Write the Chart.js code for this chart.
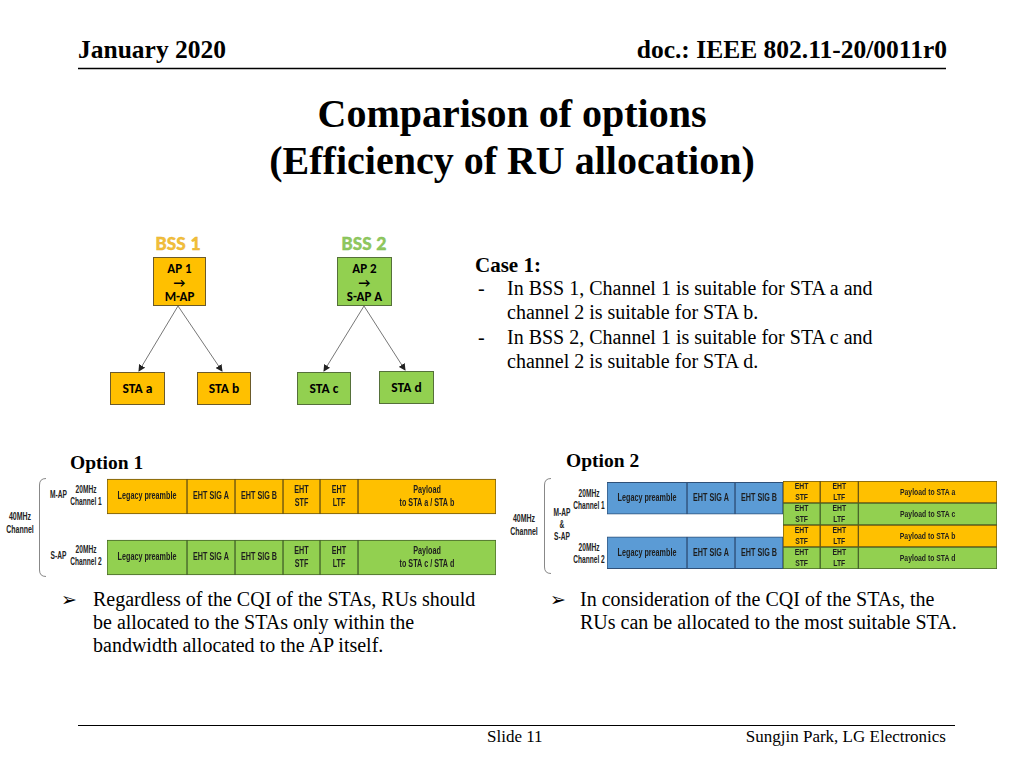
<!DOCTYPE html>
<html><head><meta charset="utf-8">
<script src="https://cdn.jsdelivr.net/npm/chart.js@4.4.1/dist/chart.umd.min.js"></script>
<style>
html,body{margin:0;padding:0;background:#fff;width:1024px;height:768px;overflow:hidden;}
#stage{position:relative;width:1024px;height:768px;}
#txt{position:absolute;left:0;top:0;}
canvas{position:absolute;}
.serif{font-family:"Liberation Serif","Times New Roman",serif;fill:#000;}
.b{font-weight:bold;}
.cal{font-family:Carlito,Lato,"Open Sans",sans-serif;font-weight:bold;}
.n{font-family:"Liberation Sans Narrow","Liberation Sans",Arial,sans-serif;font-weight:bold;font-size:10px;fill:#222;}
</style></head><body>
<div id="stage">
<svg id="txt" width="1024" height="768" xmlns="http://www.w3.org/2000/svg">
  <defs>
    <marker id="ah" markerWidth="7" markerHeight="7" refX="6" refY="3.5" orient="auto" markerUnits="userSpaceOnUse">
      <path d="M0,0 L7,3.5 L0,7 z" fill="#222"/>
    </marker>
  </defs>
  <!-- header -->
  <text class="serif b" x="78" y="58" font-size="25.5">January 2020</text>
  <text class="serif b" x="947" y="58" font-size="25.5" text-anchor="end">doc.: IEEE 802.11-20/0011r0</text>
  <line x1="78" y1="68.5" x2="946" y2="68.5" stroke="#000" stroke-width="1.5"/>
  <!-- title -->
  <text class="serif b" x="512" y="127" font-size="40" text-anchor="middle">Comparison of options</text>
  <text class="serif b" x="512" y="174" font-size="40" text-anchor="middle">(Efficiency of RU allocation)</text>

  <!-- tree diagram -->
  <text class="cal" x="178" y="250" font-size="20" text-anchor="middle" fill="#F2BF3A" stroke="#E8B030" stroke-width="0.4">BSS 1</text>
  <text class="cal" x="364" y="250" font-size="20" text-anchor="middle" fill="#8FC85E" stroke="#82BC52" stroke-width="0.4">BSS 2</text>
  <rect x="153.5" y="257.5" width="52" height="48" fill="#FFC000" stroke="#6b5a2a" stroke-width="1"/>
  <rect x="337.5" y="257.5" width="54" height="48" fill="#92D050" stroke="#55703a" stroke-width="1"/>
  <text class="cal" font-size="13" text-anchor="middle">
    <tspan x="179.5" y="272.5">AP 1</tspan><tspan x="179.5" y="286.5">→</tspan><tspan x="179.5" y="300.5">M-AP</tspan>
  </text>
  <text class="cal" font-size="13" text-anchor="middle">
    <tspan x="364.5" y="272.5">AP 2</tspan><tspan x="364.5" y="286.5">→</tspan><tspan x="364.5" y="300.5">S-AP A</tspan>
  </text>
  <line x1="178" y1="306" x2="139" y2="371" stroke="#777" stroke-width="1" marker-end="url(#ah)"/>
  <line x1="178" y1="306" x2="222" y2="371" stroke="#777" stroke-width="1" marker-end="url(#ah)"/>
  <line x1="364" y1="306" x2="324" y2="371" stroke="#777" stroke-width="1" marker-end="url(#ah)"/>
  <line x1="364" y1="306" x2="405" y2="370" stroke="#777" stroke-width="1" marker-end="url(#ah)"/>
  <rect x="110.5" y="372.5" width="54" height="32" fill="#FFC000" stroke="#6b5a2a"/>
  <rect x="197.5" y="372.5" width="53" height="32" fill="#FFC000" stroke="#6b5a2a"/>
  <rect x="297.5" y="372.5" width="53" height="32" fill="#92D050" stroke="#55703a"/>
  <rect x="379.5" y="371.5" width="54" height="32" fill="#92D050" stroke="#55703a"/>
  <text class="cal" x="137.5" y="393" font-size="13.5" text-anchor="middle">STA a</text>
  <text class="cal" x="224" y="393" font-size="13.5" text-anchor="middle">STA b</text>
  <text class="cal" x="324" y="393" font-size="13.5" text-anchor="middle">STA c</text>
  <text class="cal" x="406.5" y="392" font-size="13.5" text-anchor="middle">STA d</text>

  <!-- case text -->
  <text class="serif b" x="475" y="272" font-size="21">Case 1:</text>
  <text class="serif" x="478" y="295" font-size="20">-</text>
  <text class="serif" x="507" y="295" font-size="20">In BSS 1, Channel 1 is suitable for STA a and</text>
  <text class="serif" x="507" y="319" font-size="20">channel 2 is suitable for STA b.</text>
  <text class="serif" x="478" y="344" font-size="20">-</text>
  <text class="serif" x="507" y="344" font-size="20">In BSS 2, Channel 1 is suitable for STA c and</text>
  <text class="serif" x="507" y="368" font-size="20">channel 2 is suitable for STA d.</text>

  <!-- option headings -->
  <text class="serif b" x="70" y="469" font-size="19.5">Option 1</text>
  <text class="serif b" x="566" y="467" font-size="19.5">Option 2</text>

  <!-- option 1 side labels -->
  <path d="M46,478.5 Q39.5,478.5 39.5,485 L39.5,570 Q39.5,576.5 46,576.5" fill="none" stroke="#888" stroke-width="1"/>
  <text class="n" transform="translate(20,520) scale(0.7,1)" text-anchor="middle">40MHz</text>
  <text class="n" transform="translate(20,533) scale(0.7,1)" text-anchor="middle">Channel</text>
  <text class="n" transform="translate(58.5,498) scale(0.66,1)" text-anchor="middle">M-AP</text>
  <text class="n" transform="translate(86,493) scale(0.66,1)" text-anchor="middle">20MHz</text>
  <text class="n" transform="translate(86,505) scale(0.66,1)" text-anchor="middle">Channel 1</text>
  <text class="n" transform="translate(58.5,559) scale(0.66,1)" text-anchor="middle">S-AP</text>
  <text class="n" transform="translate(86,553) scale(0.66,1)" text-anchor="middle">20MHz</text>
  <text class="n" transform="translate(86,565) scale(0.66,1)" text-anchor="middle">Channel 2</text>

  <!-- option 2 side labels -->
  <path d="M551,478.5 Q544.5,478.5 544.5,485 L544.5,567 Q544.5,573.5 551,573.5" fill="none" stroke="#888" stroke-width="1"/>
  <text class="n" transform="translate(524,522) scale(0.7,1)" text-anchor="middle">40MHz</text>
  <text class="n" transform="translate(524,535) scale(0.7,1)" text-anchor="middle">Channel</text>
  <text class="n" transform="translate(562,516) scale(0.66,1)" text-anchor="middle">M-AP</text>
  <text class="n" transform="translate(562,528) scale(0.66,1)" text-anchor="middle">&amp;</text>
  <text class="n" transform="translate(562,540) scale(0.66,1)" text-anchor="middle">S-AP</text>
  <text class="n" transform="translate(589,497) scale(0.66,1)" text-anchor="middle">20MHz</text>
  <text class="n" transform="translate(589,509) scale(0.66,1)" text-anchor="middle">Channel 1</text>
  <text class="n" transform="translate(589,551) scale(0.66,1)" text-anchor="middle">20MHz</text>
  <text class="n" transform="translate(589,563) scale(0.66,1)" text-anchor="middle">Channel 2</text>

  <!-- bullets -->
  <text x="61" y="606" font-size="19" font-family="DejaVu Sans">➢</text>
  <text class="serif" x="93" y="606" font-size="20">Regardless of the CQI of the STAs, RUs should</text>
  <text class="serif" x="93" y="629" font-size="20">be allocated to the STAs only within the</text>
  <text class="serif" x="93" y="652" font-size="20">bandwidth allocated to the AP itself.</text>
  <text x="550" y="606" font-size="19" font-family="DejaVu Sans">➢</text>
  <text class="serif" x="580" y="606" font-size="20">In consideration of the CQI of the STAs, the</text>
  <text class="serif" x="580" y="629" font-size="20">RUs can be allocated to the most suitable STA.</text>

  <!-- footer -->
  <line x1="78" y1="725.5" x2="955" y2="725.5" stroke="#000" stroke-width="1.2"/>
  <text class="serif" x="487" y="742" font-size="17">Slide 11</text>
  <text class="serif" x="946" y="742" font-size="17" text-anchor="end">Sungjin Park, LG Electronics</text>
</svg>
<canvas id="opt1" width="391" height="122" style="left:106px;top:466px"></canvas>
<canvas id="opt2a" width="178" height="109" style="left:606px;top:471px"></canvas>
<canvas id="opt2b" width="216" height="88" style="left:782px;top:481px"></canvas>
</div>
<script>
// ---- data (time units along the frame) ----
const segmentNames   = ['Legacy preamble', 'EHT SIG A', 'EHT SIG B', 'EHT STF', 'EHT LTF', 'Payload'];
const segmentEdges   = [0, 80, 128, 176, 213, 251, 389];
const option1Rows    = ['M-AP Channel 1', 'S-AP Channel 2'];
const option1Payload = ['to STA a / STA b', 'to STA c / STA d'];
const option2Rows    = ['Channel 1', 'Channel 2'];
const option2StaRows = ['STA a', 'STA c', 'STA b', 'STA d'];

const ORANGE = '#FFC000', GREEN = '#92D050', BLUE = '#5B9BD5';
const ORANGE_B = '#6b5512', GREEN_B = '#46652a', BLUE_B = '#2f5078';

function seg(i) { return [segmentEdges[i], segmentEdges[i + 1]]; }
function labelLines(i, payloadText, oneLine) {
  const name = segmentNames[i];
  if (i === 3 || i === 4) return name.split(' ');
  if (i === 5) return oneLine ? [name + ' ' + payloadText] : [name, payloadText];
  return [name];
}

const segLabelPlugin = {
  id: 'segLabels',
  afterDatasetsDraw(chart, args, opts) {
    const ctx = chart.ctx;
    ctx.save();
    ctx.fillStyle = '#1e1e1e';
    ctx.textAlign = 'center';
    ctx.textBaseline = 'middle';
    ctx.font = 'bold ' + opts.size + 'px "Liberation Sans Narrow","Liberation Sans",Arial,sans-serif';
    chart.data.datasets.forEach((ds, di) => {
      const meta = chart.getDatasetMeta(di);
      meta.data.forEach((bar, i) => {
        const p = bar.getProps(['x', 'y', 'base'], true);
        const cx = (p.x + p.base) / 2;
        const lines = ds.segText[i];
        const n = lines.length;
        lines.forEach((t, k) => {
          const dy = (k - (n - 1) / 2) * opts.lineGap;
          ctx.save();
          ctx.translate(cx, p.y + dy);
          ctx.scale(opts.squeeze, 1);
          ctx.fillText(t, 0, 0);
          ctx.restore();
        });
      });
    });
    ctx.restore();
  }
};

function baseOptions(xmin, xmax, thickness, labelOpts) {
  return {
    indexAxis: 'y',
    responsive: false,
    animation: false,
    events: [],
    layout: { padding: { left: 1, right: 1, top: 0, bottom: 0 } },
    plugins: { legend: { display: false }, tooltip: { enabled: false }, segLabels: labelOpts },
    scales: {
      x: { type: 'linear', min: xmin, max: xmax, display: false },
      y: { type: 'category', display: false, offset: true }
    },
    datasets: { bar: { grouped: false, barThickness: thickness, borderWidth: 1, borderSkipped: false,
      categoryPercentage: 1, barPercentage: 1 } }
  };
}

// Option 1: each AP only uses its own 20 MHz channel
const opt1Colors = [ORANGE, GREEN], opt1Borders = [ORANGE_B, GREEN_B];
new Chart(document.getElementById('opt1'), {
  type: 'bar',
  data: {
    labels: option1Rows,
    datasets: segmentNames.map((name, i) => ({
      label: name,
      data: option1Rows.map(() => seg(i)),
      backgroundColor: opt1Colors,
      borderColor: opt1Borders,
      segText: option1Rows.map((r, k) => labelLines(i, option1Payload[k], false))
    }))
  },
  options: baseOptions(segmentEdges[0], segmentEdges[6], 35, { size: 10, squeeze: 0.72, lineGap: 12.5 }),
  plugins: [segLabelPlugin]
});

// Option 2: common preamble on both channels
new Chart(document.getElementById('opt2a'), {
  type: 'bar',
  data: {
    labels: option2Rows,
    datasets: [0, 1, 2].map(i => ({
      label: segmentNames[i],
      data: option2Rows.map(() => seg(i)),
      backgroundColor: BLUE,
      borderColor: BLUE_B,
      segText: option2Rows.map(() => labelLines(i, '', true))
    }))
  },
  options: baseOptions(segmentEdges[0], segmentEdges[3], 32, { size: 10, squeeze: 0.72, lineGap: 12 }),
  plugins: [segLabelPlugin]
});

// Option 2: RUs allocated per STA across the 40 MHz
const staColors = [ORANGE, GREEN, ORANGE, GREEN], staBorders = [ORANGE_B, GREEN_B, ORANGE_B, GREEN_B];
new Chart(document.getElementById('opt2b'), {
  type: 'bar',
  data: {
    labels: option2StaRows,
    datasets: [3, 4, 5].map(i => ({
      label: segmentNames[i],
      data: option2StaRows.map(() => seg(i)),
      backgroundColor: staColors,
      borderColor: staBorders,
      segText: option2StaRows.map(s => labelLines(i, 'to ' + s, true))
    }))
  },
  options: baseOptions(segmentEdges[3], segmentEdges[6], 22, { size: 9.5, squeeze: 0.72, lineGap: 11 }),
  plugins: [segLabelPlugin]
});
</script>
</body></html>
